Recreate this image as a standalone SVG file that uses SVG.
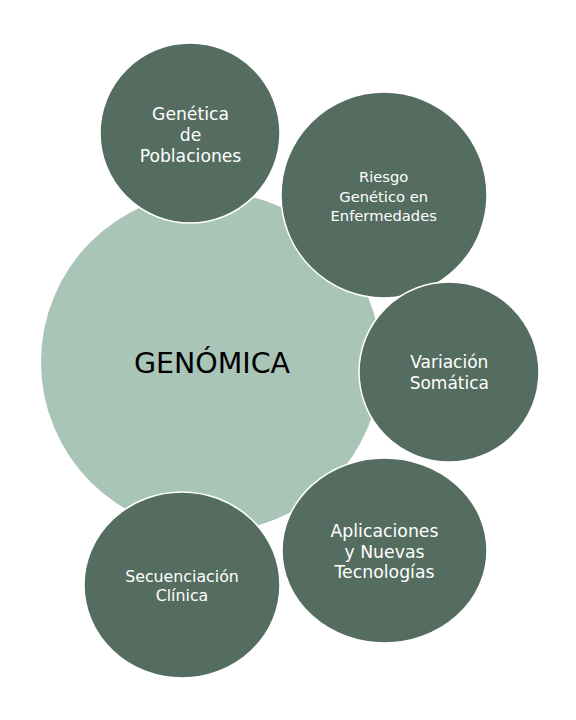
<svg xmlns="http://www.w3.org/2000/svg" width="576" height="720" viewBox="0 0 576 720">
<style>
.bg{fill:#ffffff}
.core{fill:#a9c5b8}
.sat{fill:#556d60;stroke:#ffffff;stroke-width:1.5}
.t{font-family:"DejaVu Sans",Verdana,sans-serif;fill:#ffffff;text-anchor:middle}
.main{font-family:"DejaVu Sans",Verdana,sans-serif;fill:#000000;text-anchor:middle;font-size:28.5px}
</style>
<rect class="bg" x="0" y="0" width="576" height="720"/>
<g id="connectors"></g>
<g id="node-genomica">
<circle class="core" cx="211" cy="362" r="170"/>
<text class="main" x="212" y="372.5">GENÓMICA</text>
</g>
<g id="node-poblaciones">
<circle class="sat" cx="190" cy="133" r="90"/>
<text class="t" font-size="17.2" x="190.5" y="120">Genética</text>
<text class="t" font-size="17.2" x="190.5" y="141">de</text>
<text class="t" font-size="17.2" x="190.5" y="161.7">Poblaciones</text>
</g>
<g id="node-riesgo">
<circle class="sat" cx="384" cy="195" r="103"/>
<text class="t" font-size="14.7" x="383.7" y="181.7">Riesgo</text>
<text class="t" font-size="14.7" x="383.7" y="201.5">Genético en</text>
<text class="t" font-size="14.7" x="383.7" y="220.7">Enfermedades</text>
</g>
<g id="node-variacion">
<circle class="sat" cx="449" cy="372" r="90"/>
<text class="t" font-size="17" x="449.3" y="368.3">Variación</text>
<text class="t" font-size="17" x="449.3" y="389">Somática</text>
</g>
<g id="node-aplicaciones">
<ellipse class="sat" cx="384.5" cy="550.5" rx="102.5" ry="92.5"/>
<text class="t" font-size="17.3" x="384.5" y="537.3">Aplicaciones</text>
<text class="t" font-size="17.3" x="384.5" y="558.3">y Nuevas</text>
<text class="t" font-size="17.3" x="384.5" y="578.3">Tecnologías</text>
</g>
<g id="node-secuenciacion">
<ellipse class="sat" cx="182" cy="585" rx="98" ry="93"/>
<text class="t" font-size="15.8" x="182" y="581.7">Secuenciación</text>
<text class="t" font-size="15.8" x="182" y="600.7">Clínica</text>
</g>
</svg>
